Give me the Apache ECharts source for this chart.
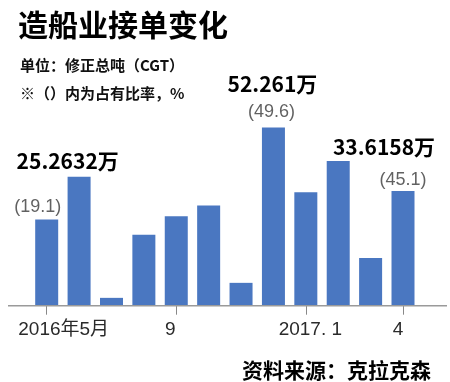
<!DOCTYPE html>
<html><head><meta charset="utf-8">
<script src="https://cdn.jsdelivr.net/npm/echarts@6/dist/echarts.min.js"></script>
<style>html,body{margin:0;padding:0;background:#fff}#c{width:450px;height:382px}</style>
</head><body><div id="c"></div>
<script>
// ---- data ----
const months = ['2016年5月','6','7','8','9','10','11','12','2017. 1','2','3','4'];
const orders = [25.2632, 37.8, 2.3, 20.8, 26.2, 29.4, 6.7, 52.261, 33.3, 42.4, 14.0, 33.6158]; // 万CGT
const highlightIdx = [0, 7, 11];
const amountLabels = ['25.2632万', '52.261万', '33.6158万'];
const shares = [19.1, 49.6, 45.1];
const tickIdx = [0, 4, 8, 11];

// ---- styles / positions ----
const amountOffsets = [[21, -59], [-1, -43], [-19, -44]];
const shareOffsets = [[-9, -13], [-2, -15], [0, -11]];
const labelPad = {0: [0,0,0,34], 4: [0,12,0,0], 8: [0,0,0,9], 11: [0,10,0,0]};

const latin = "'Liberation Sans','Noto Sans CJK SC',sans-serif";
const cjk = "'Noto Sans CJK SC','Liberation Sans',sans-serif";

const rich = {};
Object.keys(labelPad).forEach(k => { rich['p' + k] = {padding: labelPad[k], fontSize: 19, color: '#2a2a2a', fontFamily: latin}; });

const chart = echarts.init(document.getElementById('c'), null, {renderer: 'canvas'});
chart.setOption({
  animation: false,
  backgroundColor: '#fff',
  title: [
    {text: '造船业接单变化', left: 13, top: 5, textStyle: {fontSize: 30, fontWeight: 'bold', color: '#000', fontFamily: cjk}},
    {text: '单位：修正总吨（CGT）', left: 15, top: 53, textStyle: {fontSize: 15, fontWeight: 'bold', color: '#111', fontFamily: cjk}},
    {text: '※（）内为占有比率，%', left: 15, top: 81, textStyle: {fontSize: 15, fontWeight: 'bold', color: '#111', fontFamily: cjk}},
    {text: '资料来源：克拉克森', right: 14, top: 355, textStyle: {fontSize: 21, fontWeight: 'bold', color: '#000', fontFamily: cjk}}
  ],
  grid: {left: 30.5, right: 30.8, top: 101.1, bottom: 76.3},
  xAxis: {
    type: 'category', data: months,
    axisLine: {show: false},
    axisTick: {show: true, alignWithLabel: true, length: 9, lineStyle: {color: '#888', width: 1},
      interval: (i) => tickIdx.includes(i)},
    axisLabel: {margin: 15, interval: (i) => tickIdx.includes(i),
      formatter: (v, i) => '{p' + i + '|' + v + '}', rich: rich}
  },
  yAxis: {type: 'value', min: 0, max: 60, show: false, splitLine: {show: false}},
  graphic: [{type: 'line', shape: {x1: 8, y1: 305.7, x2: 447, y2: 305.7}, style: {stroke: '#9a9a9a', lineWidth: 1.5}, z: 10}],
  series: [
    {type: 'bar', data: orders, barWidth: 23, itemStyle: {color: '#4a77c1'}, silent: true},
    {type: 'scatter', symbolSize: 1, itemStyle: {color: 'rgba(0,0,0,0)'}, silent: true,
      data: highlightIdx.map((i, k) => ({value: [i, orders[i]],
        label: {show: true, position: 'inside', formatter: amountLabels[k], offset: amountOffsets[k],
          fontSize: 21, fontWeight: 'bold', color: '#000', opacity: 1, textBorderWidth: 0, fontFamily: cjk}}))},
    {type: 'scatter', symbolSize: 1, itemStyle: {color: 'rgba(0,0,0,0)'}, silent: true,
      data: highlightIdx.map((i, k) => ({value: [i, orders[i]],
        label: {show: true, position: 'inside', formatter: '(' + shares[k] + ')', offset: shareOffsets[k],
          fontSize: 18, color: '#3a3a3a', textBorderWidth: 0, fontFamily: latin}}))}
  ]
});
</script></body></html>
